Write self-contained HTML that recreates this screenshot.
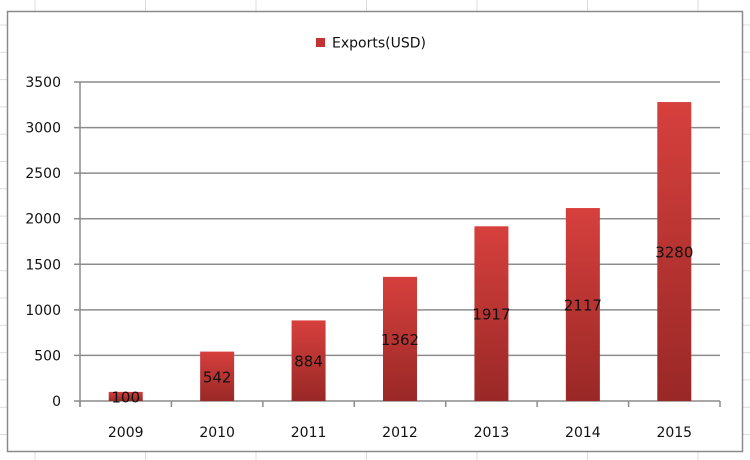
<!DOCTYPE html>
<html><head><meta charset="utf-8"><style>
body{margin:0;background:#fff;}
svg{display:block;font-family:"DejaVu Sans","Liberation Sans",sans-serif;}
</style></head><body>
<svg id="c" width="750" height="460">
<defs><linearGradient id="g" x1="0" y1="0" x2="0" y2="1"><stop offset="0" stop-color="#d6403d"/><stop offset="1" stop-color="#992826"/></linearGradient></defs>
<g id="bg"></g>
<rect x="7.5" y="11.5" width="735" height="440" fill="#fff" stroke="#8a8a8a" stroke-width="1.5"/>
<g>
<rect x="316" y="38" width="9" height="9" fill="#c33331"/>
<text x="332" y="47.5" font-size="14" fill="#111">Exports(USD)</text>
</g>
<g id="plot"></g>
</svg>
<script>
const categories=["2009","2010","2011","2012","2013","2014","2015"];
const exportsValues=[100,542,884,1362,1917,2117,3280];
const yTicks=[0,500,1000,1500,2000,2500,3000,3500];
const NS="http://www.w3.org/2000/svg";
const X0=80,X1=720,Y0=401,Y1=82,YMAX=3500;
const y=v=>Y0-(v/YMAX)*(Y0-Y1);
const band=(X1-X0)/categories.length;
const xc=i=>X0+band*(i+0.5);
function mk(tag,attrs,parent){const e=document.createElementNS(NS,tag);for(const k in attrs)e.setAttribute(k,attrs[k]);parent.appendChild(e);return e;}
const bg=document.getElementById('bg'),p=document.getElementById('plot');
for(let gx=35;gx<750;gx+=110.5){const l=mk('line',{x1:gx,x2:gx,y1:0,y2:460,stroke:'#dcdcdc'},bg);

}
for(let gy=25;gy<460;gy+=27.3){const l=mk('line',{x1:0,x2:750,y1:gy,y2:gy,stroke:'#dcdcdc'},bg);

}
yTicks.forEach(t=>{
const l=mk('line',{x1:X0-6,x2:X1,y1:y(t),y2:y(t),stroke:'#8c8c8c','stroke-width':1.5},p);


const tx=mk('text',{x:61,y:y(t)+5,'font-size':14,'text-anchor':'end',fill:'#111'},p);tx.textContent=t;


});
const ax=mk('line',{x1:X0,x2:X0,y1:Y1,y2:Y0+6,stroke:'#8c8c8c','stroke-width':1.5},p);


for(let i=0;i<=categories.length;i++){const t=mk('line',{x1:X0+band*i,x2:X0+band*i,y1:Y0,y2:Y0+6,stroke:'#8c8c8c','stroke-width':1.5},p);

}
categories.forEach((c,i)=>{
const v=exportsValues[i];
const r=mk('rect',{x:xc(i)-17,y:y(v),width:34,height:Y0-y(v),fill:'url(#g)'},p);


const lb=mk('text',{x:xc(i),y:(y(v)+Y0)/2+6,'font-size':15,'text-anchor':'middle',fill:'#111'},p);lb.textContent=v;


const xl=mk('text',{x:xc(i),y:437,'font-size':14,'text-anchor':'middle',fill:'#111'},p);xl.textContent=c;


});
</script>
</body></html>
